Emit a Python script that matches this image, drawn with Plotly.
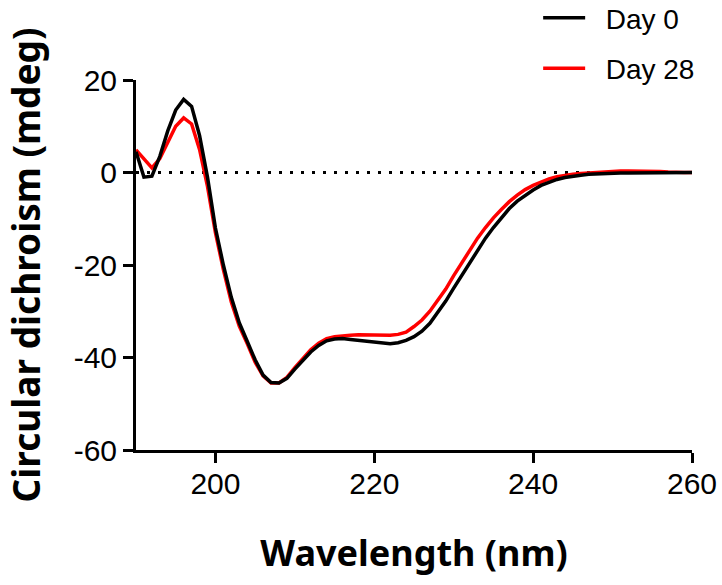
import plotly.graph_objects as go

wavelength = list(range(190, 261))

day0 = [4.5, -1.0, -0.8, 3.5, 9.0, 13.5, 15.8, 14.3, 8.0, -1.0,
        -12.0, -20.0, -27.0, -32.5, -36.5, -40.5, -43.8, -45.4, -45.5, -44.5,
        -42.5, -40.6, -38.8, -37.4, -36.4, -36.0, -35.9, -36.1, -36.3, -36.5,
        -36.7, -36.9, -37.0, -36.8, -36.3, -35.5, -34.3, -32.6, -30.3, -27.8,
        -25.0, -22.3, -19.4, -16.7, -14.2, -11.9, -9.8, -7.8, -6.2, -4.9,
        -3.8, -2.8, -2.1, -1.5, -1.1, -0.8, -0.6, -0.4, -0.3, -0.2,
        -0.2, -0.1, -0.1, -0.1, -0.1, 0.0, 0.0, 0.0, 0.0, 0.0, 0.0]

day28 = [4.9, 3.0, 1.0, 3.0, 6.5, 10.0, 11.8, 10.5, 5.0, -3.0,
         -13.0, -21.0, -28.0, -33.2, -37.0, -41.0, -44.0, -45.5, -45.5, -44.3,
         -42.2, -40.2, -38.3, -36.9, -35.9, -35.5, -35.3, -35.2, -35.1, -35.1,
         -35.1, -35.2, -35.2, -35.0, -34.5, -33.3, -31.9, -30.0, -27.7, -25.2,
         -22.3, -19.6, -16.9, -14.2, -11.9, -9.8, -8.0, -6.3, -4.9, -3.7,
         -2.8, -2.0, -1.4, -0.9, -0.6, -0.4, -0.2, -0.1, 0.1, 0.2,
         0.2, 0.3, 0.3, 0.3, 0.3, 0.3, 0.2, 0.1, 0.0, 0.0, 0.0]

x_ticks = [200, 220, 240, 260]
y_ticks = [20, 0, -20, -40, -60]
y_tick_text = ["20", "0", "-20", "-40", "-60"]
series_names = ["Day 0", "Day 28"]

fig = go.Figure()
fig.add_trace(go.Scatter(x=wavelength, y=day28, mode="lines",
                         name="\u00a0\u00a0" + series_names[1],
                         line=dict(color="#ff0000", width=3.5), legendgroup="b",
                         legendrank=2))
fig.add_trace(go.Scatter(x=wavelength, y=day0, mode="lines",
                         name="\u00a0\u00a0" + series_names[0],
                         line=dict(color="#000000", width=3.5), legendgroup="a",
                         legendrank=1))

fig.add_shape(type="line", xref="x", yref="y", x0=190, x1=260, y0=0, y1=0,
              line=dict(color="black", width=3, dash="3px,8px"), layer="below")

fig.update_layout(
    width=722, height=585,
    margin=dict(l=135.5, r=30, t=80, b=135, autoexpand=False),
    plot_bgcolor="white", paper_bgcolor="white",
    font=dict(family="Liberation Sans, Arial, sans-serif", color="black", size=28),
    showlegend=True,
    legend=dict(xref="paper", yref="paper", x=0.7233, y=1.235,
                xanchor="left", yanchor="top", itemwidth=42,
                font=dict(size=28, family="Liberation Sans, Arial, sans-serif"),
                traceorder="grouped", tracegroupgap=11, bgcolor="rgba(0,0,0,0)"),
    xaxis=dict(range=[190, 260], tickvals=x_ticks, ticks="outside", ticklen=10,
               tickwidth=3, tickcolor="black", showline=True, linecolor="black",
               linewidth=3, showgrid=False, zeroline=False,
               tickfont=dict(size=30), ticklabelstandoff=-5,
               title=dict(text="<b>Wavelength (nm)</b>",
                          font=dict(family="Noto Sans, sans-serif", size=36),
                          standoff=42)),
    yaxis=dict(range=[-60, 20], tickvals=y_ticks, ticktext=y_tick_text,
               ticks="outside", ticklen=10,
               tickwidth=3, tickcolor="black", showline=True, linecolor="black",
               linewidth=3, showgrid=False, zeroline=False,
               tickfont=dict(size=30),
               title=dict(text="<b>Circular dichroism (mdeg)</b>",
                          font=dict(family="Noto Sans, sans-serif", size=37),
                          standoff=22)),
)

fig.write_html("out.html")
